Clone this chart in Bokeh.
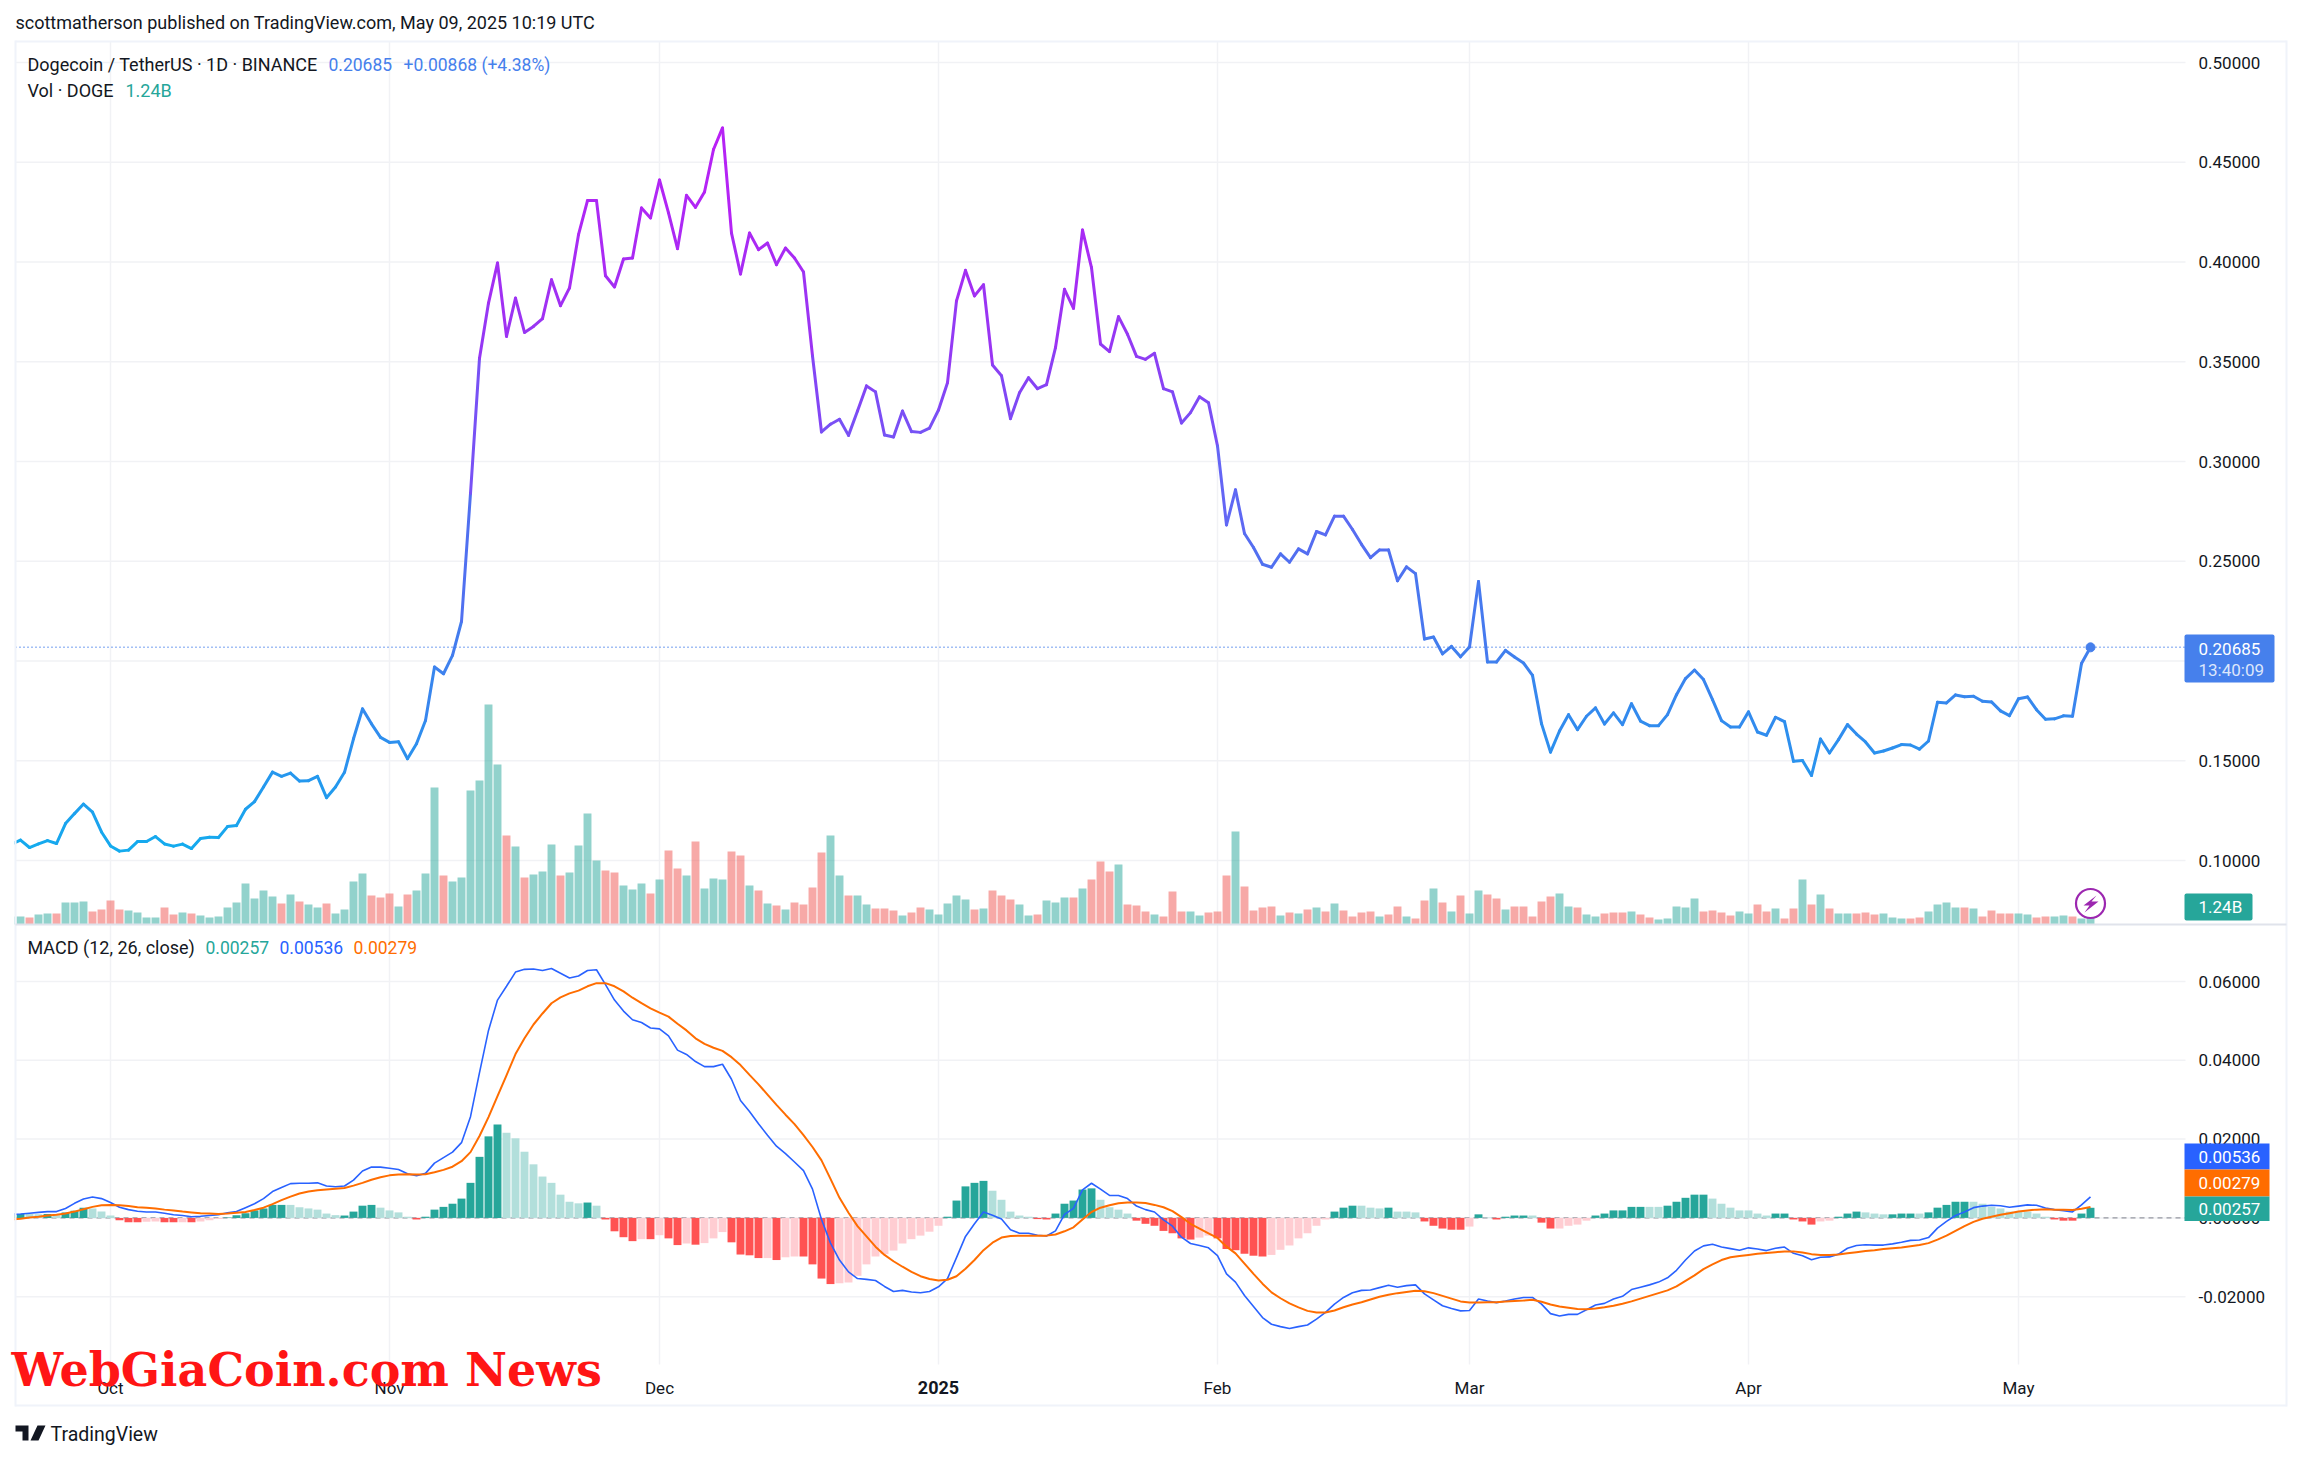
from bokeh.plotting import figure
from bokeh.core.properties import value
from bokeh.models import (Range1d, Label, BoxAnnotation, PolyAnnotation, ColumnDataSource, LinearColorMapper)
from bokeh.embed import file_html
from bokeh.resources import INLINE

# ---------- data (one value per day, Sep 20 2024 .. May 9 2025) ----------
close = [
 .1082,.1102,.1065,.1083,.1100,.1085,.1185,.1235,.1283,.1243,.1143,.1073,.1047,.1052,.1095,.1095,.1120,.1083,.1072,.1082,
 .1060,.1110,.1117,.1115,.1170,.1175,.1257,.1295,.1368,.1443,.1422,.1438,.1398,.1400,.1422,.1315,.1368,.1442,.1610,.1760,
 .1685,.1617,.1592,.1595,.1510,.1585,.1702,.1970,.1936,.2028,.2198,.2840,.3518,.3794,.3995,.3627,.3819,.3647,.3677,.3716,
 .3911,.3781,.3870,.4137,.4308,.4308,.3931,.3875,.4015,.4020,.4271,.4221,.4411,.4246,.4067,.4334,.4274,.4351,.4564,.4672,
 .4145,.3940,.4145,.4062,.4095,.3987,.4070,.4020,.3950,.3529,.3148,.3187,.3212,.3131,.3253,.3379,.3349,.3133,.3123,.3253,
 .3150,.3146,.3167,.3258,.3395,.3805,.3958,.3830,.3886,.3484,.3430,.3215,.3345,.3420,.3365,.3385,.3571,.3863,.3768,.4160,
 .3972,.3589,.3551,.3726,.3638,.3527,.3512,.3542,.3365,.3349,.3193,.3245,.3324,.3295,.3078,.2682,.2858,.2639,.2569,.2485,
 .2470,.2537,.2495,.2562,.2537,.2649,.2632,.2726,.2726,.2659,.2585,.2518,.2557,.2557,.2402,.2472,.2438,.2110,.2120,.2036,
 .2073,.2021,.2070,.2399,.1995,.1995,.2053,.2020,.1990,.1928,.1686,.1543,.1649,.1731,.1656,.1723,.1765,.1684,.1740,.1681,
 .1786,.1699,.1676,.1676,.1731,.1831,.1912,.1955,.1907,.1806,.1701,.1669,.1669,.1745,.1644,.1628,.1718,.1696,.1497,.1501,
 .1426,.1609,.1539,.1606,.1681,.1634,.1594,.1539,.1549,.1564,.1581,.1579,.1558,.1599,.1793,.1790,.1830,.1821,.1823,.1798,
 .1795,.1750,.1726,.1811,.1820,.1756,.1708,.1710,.1725,.1723,.1987,.20685]

volume_b = [
 .8,.8,.7,1.0,1.1,1.1,2.2,2.2,2.3,1.3,1.5,2.4,1.5,1.4,1.2,.7,.7,1.7,1.0,1.2,
 1.1,.9,.7,.8,1.7,2.2,4.1,2.6,3.4,2.8,2.1,3.0,2.3,2.0,1.7,2.1,1.1,1.5,4.3,5.1,
 2.9,2.7,3.1,1.8,3.0,3.4,5.1,13.7,4.9,4.3,4.7,13.4,14.4,22.0,16.0,8.9,7.8,4.7,5.0,5.3,
 8.0,4.9,5.2,7.9,11.1,6.4,5.4,5.2,3.9,3.5,4.1,3.1,4.5,7.4,5.6,4.9,8.3,3.6,4.6,4.5,
 7.3,6.9,3.9,3.4,2.1,1.9,1.5,2.2,2.0,3.7,7.2,8.9,4.9,2.9,2.9,2.0,1.6,1.6,1.4,.9,
 1.2,1.7,1.5,1.0,2.1,2.9,2.5,1.5,1.6,3.4,2.9,2.5,2.0,.9,1.0,2.4,2.2,2.7,2.7,3.6,
 4.5,6.3,5.3,6.0,2.0,1.9,1.3,1.0,.8,3.3,1.3,1.3,.9,1.2,1.3,4.9,9.3,3.8,1.4,1.7,
 1.8,.9,1.2,1.1,1.5,1.7,1.3,2.1,1.4,.8,1.2,1.3,.8,1.0,1.8,.8,.6,2.4,3.6,2.2,
 1.3,2.9,1.1,3.4,3.0,2.6,1.5,1.8,1.8,.8,2.3,2.8,3.1,1.8,1.7,1.0,.8,1.1,1.2,1.2,
 1.3,1.0,.7,.5,.6,1.8,1.7,2.6,1.3,1.4,1.2,.9,1.3,1.1,2.0,1.3,1.6,.6,1.6,4.5,
 2.0,3.0,1.6,1.1,1.1,1.1,1.2,1.0,1.1,.7,.6,.6,.7,1.3,2.0,2.2,1.7,1.7,1.6,.8,
 1.4,1.1,1.1,1.1,1.0,.7,.8,.8,.9,.8,.6,1.24]

volume_dir = ("g g r g g r g g g r r r r g g g g r r g r g g g g g g g g g "   # 0-29
              "r g r g g r g g g g r r r g r g g g r g g g g g g r g r g g "   # 30-59
              "g r g g g g r r g g g r g r r g r g g g r r g r g r g r r r "   # 60-89
              "r g g r g g r r r g r r g g g g g r g r r r g g r g g g r g "   # 90-119
              "r r r g r r r g r r r g g r r r g r r r r g r g r g r g r r "   # 120-149
              "r r g r r g r r g r g r g g r r g r r r r r g g r g g r r r "   # 150-179
              "g r r g g g g g r r r r g g r r g r r g r g r g g r r r g g "   # 180-209
              "g r r g g g g r g r r r r g g r r g g r g g").split()            # 210-231

macd_line = [
 .0009,.0010,.0012,.0014,.0016,.0016,.0024,.0037,.0048,.0053,.0049,.0039,.0027,.0021,.0017,.0015,.0015,.0012,.0008,.0006,
 .0003,.0004,.0006,.0008,.0013,.0016,.0026,.0036,.0049,.0067,.0077,.0087,.0088,.0088,.0089,.0081,.0079,.0081,.0096,.0119,
 .0129,.0129,.0126,.0123,.0112,.0107,.0113,.0139,.0153,.0167,.0191,.0257,.0369,.0476,.0553,.0588,.0624,.0631,.0632,.0628,
 .0633,.0621,.0609,.0614,.0628,.0630,.0592,.0553,.0525,.0503,.0496,.0482,.0480,.0462,.0426,.0415,.0397,.0384,.0384,.0390,
 .0352,.0298,.0270,.0239,.0210,.0182,.0163,.0142,.0120,.0073,-.0004,-.0064,-.0107,-.0137,-.0154,-.0156,-.0159,-.0174,-.0187,-.0184,
 -.0188,-.0190,-.0187,-.0175,-.0154,-.0101,-.0047,-.0015,.0015,.0007,-.0003,-.0030,-.0039,-.0039,-.0044,-.0046,-.0033,.0009,.0024,.0071,
 .0088,.0073,.0057,.0057,.0049,.0030,.0021,.0015,-.0005,-.0021,-.0049,-.0065,-.0070,-.0076,-.0096,-.0142,-.0163,-.0197,-.0225,-.0253,
 -.0270,-.0276,-.0281,-.0276,-.0272,-.0257,-.0240,-.0219,-.0202,-.0190,-.0184,-.0183,-.0177,-.0171,-.0176,-.0172,-.0170,-.0193,-.0208,-.0223,
 -.0230,-.0236,-.0235,-.0206,-.0211,-.0215,-.0211,-.0206,-.0202,-.0202,-.0219,-.0243,-.0249,-.0245,-.0245,-.0233,-.0221,-.0217,-.0206,-.0199,
 -.0182,-.0176,-.0170,-.0163,-.0152,-.0133,-.0107,-.0084,-.0071,-.0067,-.0074,-.0078,-.0082,-.0076,-.0079,-.0083,-.0077,-.0074,-.0090,-.0096,
 -.0106,-.0100,-.0099,-.0092,-.0077,-.0070,-.0068,-.0069,-.0069,-.0066,-.0062,-.0057,-.0056,-.0050,-.0026,-.0009,.0006,.0015,.0026,.0030,
 .0032,.0031,.0027,.0030,.0033,.0032,.0025,.0021,.0018,.0015,.0033,.00536]

signal_line = [
 -.0004,-.0002,.0001,.0003,.0006,.0008,.0011,.0016,.0022,.0028,.0032,.0033,.0032,.0030,.0027,.0026,.0024,.0021,.0019,.0016,
 .0014,.0012,.0011,.0010,.0011,.0013,.0015,.0020,.0026,.0035,.0045,.0054,.0062,.0067,.0070,.0072,.0074,.0076,.0082,.0089,
 .0097,.0103,.0108,.0110,.0111,.0110,.0111,.0116,.0122,.0130,.0144,.0167,.0208,.0256,.0309,.0362,.0416,.0456,.0491,.0519,
 .0545,.0560,.0570,.0577,.0588,.0596,.0596,.0588,.0575,.0559,.0545,.0532,.0521,.0511,.0493,.0476,.0456,.0442,.0432,.0424,
 .0408,.0388,.0363,.0339,.0313,.0287,.0262,.0238,.0210,.0180,.0146,.0099,.0051,.0013,-.0021,-.0047,-.0073,-.0094,-.0110,-.0124,
 -.0137,-.0148,-.0155,-.0159,-.0157,-.0148,-.0129,-.0107,-.0082,-.0063,-.0050,-.0046,-.0045,-.0045,-.0045,-.0045,-.0042,-.0034,-.0024,-.0004,
 .0015,.0026,.0032,.0037,.0039,.0039,.0038,.0033,.0027,.0017,.0002,-.0015,-.0027,-.0039,-.0051,-.0073,-.0090,-.0116,-.0142,-.0167,
 -.0189,-.0204,-.0217,-.0227,-.0236,-.0240,-.0240,-.0235,-.0227,-.0220,-.0214,-.0207,-.0200,-.0195,-.0191,-.0188,-.0185,-.0186,-.0191,-.0198,
 -.0205,-.0212,-.0215,-.0215,-.0214,-.0214,-.0212,-.0211,-.0210,-.0208,-.0213,-.0220,-.0225,-.0228,-.0231,-.0232,-.0230,-.0227,-.0223,-.0218,
 -.0212,-.0205,-.0198,-.0191,-.0184,-.0174,-.0160,-.0146,-.0130,-.0118,-.0107,-.0100,-.0097,-.0094,-.0091,-.0089,-.0087,-.0085,-.0085,-.0088,
 -.0092,-.0094,-.0094,-.0093,-.0090,-.0087,-.0084,-.0082,-.0079,-.0077,-.0075,-.0072,-.0069,-.0064,-.0055,-.0045,-.0033,-.0021,-.0010,-.0002,
 .0003,.0008,.0012,.0016,.0019,.0021,.0022,.0021,.0021,.0020,.0023,.00279]

macd_hist = [
 .0012,.0010,.0010,.0009,.0010,.0007,.0014,.0018,.0026,.0024,.0016,.0006,-.0006,-.0011,-.0011,-.0010,-.0009,-.0011,-.0011,-.0011,
 -.0011,-.0009,-.0006,-.0003,.0001,.0007,.0012,.0019,.0024,.0033,.0033,.0033,.0027,.0024,.0021,.0011,.0007,.0006,.0016,.0031,
 .0033,.0026,.0019,.0014,.0003,-.0004,.0003,.0021,.0028,.0036,.0049,.0089,.0155,.0207,.0237,.0216,.0202,.0168,.0136,.0105,
 .0089,.0059,.0041,.0037,.0039,.0031,-.0004,-.0034,-.0049,-.0059,-.0054,-.0054,-.0044,-.0052,-.0069,-.0065,-.0068,-.0064,-.0052,-.0036,
 -.0062,-.0093,-.0095,-.0102,-.0102,-.0107,-.0100,-.0098,-.0098,-.0118,-.0154,-.0168,-.0166,-.0164,-.0147,-.0118,-.0098,-.0092,-.0083,-.0065,
 -.0054,-.0045,-.0035,-.0020,.0003,.0044,.0080,.0089,.0094,.0069,.0046,.0016,.0006,.0003,-.0003,-.0004,.0011,.0036,.0044,.0072,
 .0075,.0046,.0027,.0021,.0011,-.0007,-.0015,-.0020,-.0033,-.0039,-.0052,-.0055,-.0050,-.0045,-.0052,-.0079,-.0082,-.0091,-.0096,-.0098,
 -.0094,-.0081,-.0070,-.0052,-.0039,-.0020,-.0004,.0016,.0026,.0031,.0031,.0026,.0024,.0026,.0016,.0016,.0014,-.0009,-.0020,-.0027,
 -.0030,-.0030,-.0022,.0009,.0001,-.0004,.0003,.0006,.0006,.0006,-.0012,-.0027,-.0027,-.0020,-.0017,-.0007,.0006,.0011,.0019,.0019,
 .0028,.0028,.0028,.0028,.0031,.0041,.0051,.0059,.0059,.0049,.0036,.0026,.0019,.0019,.0011,.0006,.0011,.0011,-.0004,-.0009,
 -.0017,-.0009,-.0007,.0003,.0011,.0016,.0014,.0011,.0009,.0009,.0011,.0011,.0011,.0014,.0026,.0033,.0041,.0041,.0041,.0036,
 .0028,.0024,.0016,.0016,.0016,.0011,.0003,-.0004,-.0007,-.0007,.0011,.00257]

# D dark green (rising above zero), L light green, R red, P pink
hist_shade = ("D D L L D L D D D L L L R R R P P R R P R P P P D D D D D D "   # 0-29
              "D L L L L L L D D D D L L L L R D D D D D D D D D L L L L L "   # 30-59
              "L L L L D L R R R R P R P R R P R P P P R R R R P R P P R R "   # 60-89
              "R R P P P P P P P P P P P P D D D D D L L L L L R R D D D D "   # 90-119
              "D L L L L R R R R R R R P P R R R R R R P P P P P P P D D D "   # 120-149
              "L L L D L L L R R R R R P D L R D D D L R R P P P P D D D D "   # 150-179
              "D D L L D D D D D L L L L L L L D D R R R P P D D D L L L D "   # 180-209
              "D D L D D D D D L L L L L L L L L R R R D D").split()            # 210-231

price_ticks = [.10, .15, .20, .25, .30, .35, .40, .45, .50]
macd_ticks = [-.02, 0, .02, .04, .06]
month_index = [11, 42, 72, 103, 134, 162, 193, 223]
month_names = ["Oct", "Nov", "Dec", "2025", "Feb", "Mar", "Apr", "May"]
# ---------------------------------------------------------------------------------------------

days = list(range(len(close)))
for name, arr in (("vol", volume_b), ("dir", volume_dir), ("macd", macd_line), ("sig", signal_line),
                  ("hist", macd_hist), ("shade", hist_shade)):
    assert len(arr) == len(days), (name, len(arr), len(days))

FONT = "Roboto"
INK = "#131722"
GRID = "#F1F2F5"
EDGE = "#F0F3FA"
BLUE = "#4680EC"
W, H = 2301, 1460

FRAME_L, FRAME_R, TOP, SPLIT, BOT, EDGE_B = 15, 2185, 41, 924, 1364, 1406
def ix(px): return (px - 11) / 9.0
def py1(py): return 0.50 + (62 - py) / 1995.0
def py2(py): return (1217.4 - py) / 3939.0
def pyv(py): return (SPLIT - py) / 10.0

# one canvas-wide frame; each pane is a y range laid over part of it
p = figure(width=W, height=H, frame_width=W, frame_height=H,
           x_range=Range1d(ix(0), ix(W)), y_range=Range1d(py1(H), py1(0)),
           output_backend="svg", toolbar_location=None, x_axis_location=None, y_axis_location=None,
           min_border=0, outline_line_color=None, background_fill_color="white", border_fill_color="white")
p.grid.visible = False
p.extra_y_ranges = {"vol": Range1d(pyv(H), pyv(0)), "macd": Range1d(py2(H), py2(0))}

# grid lines
gx0, gx1 = ix(FRAME_L), ix(FRAME_R)
p.segment([gx0] * len(price_ticks), price_ticks, [gx1] * len(price_ticks), price_ticks, line_color=GRID, line_width=1.5)
p.segment([gx0] * len(macd_ticks), macd_ticks, [gx1] * len(macd_ticks), macd_ticks, y_range_name="macd",
          line_color=GRID, line_width=1.5)
p.segment(month_index, [py1(TOP)] * len(month_index), month_index, [py1(BOT)] * len(month_index),
          line_color=GRID, line_width=1.5)

# scale labels
LX = ix(2198)
tf = value(FONT)
p.text([LX] * len(price_ticks), price_ticks, text=[f"{t:.5f}" for t in price_ticks], text_font=tf,
       text_font_size="17px", text_color=INK, text_baseline="middle", text_align="left")
p.text([LX] * len(macd_ticks), macd_ticks, text=[f"{t:.5f}" for t in macd_ticks], y_range_name="macd", text_font=tf,
       text_font_size="17px", text_color=INK, text_baseline="middle", text_align="left")
reg = [k for k, n in enumerate(month_names) if n != "2025"]
MONTH_Y = py1(1387)
p.text([month_index[k] for k in reg], [MONTH_Y] * len(reg), text=[month_names[k] for k in reg], text_font=tf,
       text_font_size="17px", text_color=INK, text_baseline="middle", text_align="center")
yr = month_names.index("2025")
p.text([month_index[yr]], [MONTH_Y], text=[month_names[yr]], text_font=tf, text_font_size="18px",
       text_font_style="bold", text_color=INK, text_baseline="middle", text_align="center")

# volume
vcol = ["#26A69A" if d == "g" else "#EF5350" for d in volume_dir]
p.vbar(x=days, top=volume_b, bottom=0, width=0.88, y_range_name="vol", fill_color=vcol, fill_alpha=0.5, line_color=None)

# gradient close line
anchors = [(.105, (0x14, 0xAB, 0xEE)), (.15, (0x2A, 0x92, 0xEE)), (.20, (0x3F, 0x80, 0xEE)), (.25, (0x50, 0x70, 0xF0)),
           (.29, (0x66, 0x64, 0xF5)), (.33, (0x80, 0x48, 0xF5)), (.38, (0xA0, 0x30, 0xF3)), (.46, (0xBA, 0x20, 0xF6))]
palette = []
for k in range(128):
    v = .105 + (.46 - .105) * k / 127
    for (a, ca), (b, cb) in zip(anchors, anchors[1:]):
        if a <= v <= b + 1e-9:
            t = (v - a) / (b - a)
            palette.append("#%02X%02X%02X" % tuple(int(round(u + (w - u) * t)) for u, w in zip(ca, cb)))
            break
mapper = LinearColorMapper(palette=palette, low=.105, high=.46)
seg = ColumnDataSource(dict(x0=days[:-1], x1=days[1:], y0=close[:-1], y1=close[1:],
                            m=[(a + b) / 2 for a, b in zip(close[:-1], close[1:])]))
p.segment("x0", "y0", "x1", "y1", source=seg, line_width=3, line_cap="round",
          line_color={"field": "m", "transform": mapper})
p.line([gx0, gx1], [close[-1], close[-1]], line_color=BLUE, line_width=1.5, line_dash=[1, 3])
p.scatter([days[-1]], [close[-1]], size=9, fill_color=BLUE, line_color=BLUE)

# MACD
hcol = {"D": "#26A69A", "L": "#B2DFDB", "R": "#FF5252", "P": "#FFCDD2"}
p.line([gx0, gx1], [0, 0], y_range_name="macd", line_color="#9598A1", line_width=1.2, line_dash=[5, 4])
p.vbar(x=days, top=macd_hist, bottom=0, width=0.88, y_range_name="macd", fill_color=[hcol[s] for s in hist_shade], line_color=None)
p.line(days, macd_line, y_range_name="macd", line_color="#2962FF", line_width=1.6)
p.line(days, signal_line, y_range_name="macd", line_color="#FF6D00", line_width=2)

# lightning badge
p.scatter([days[-1]], [py1(903)], size=29, fill_color="white", line_color="#9C27B0", line_width=2.2)

# decoration placed in canvas pixels
def box(l, r, t, b, color, radius=0):
    p.add_layout(BoxAnnotation(left=l, right=r, top=t, bottom=b, left_units="canvas", right_units="canvas",
                               top_units="canvas", bottom_units="canvas", fill_color=color, fill_alpha=1,
                               line_color=None, border_radius=radius))

def text(x, y, s, color=INK, size=18.0, style="normal", font=FONT):
    p.add_layout(Label(x=x, y=y, x_units="canvas", y_units="canvas", text=s, text_color=color,
                       text_font_size=f"{size}px", text_font=font, text_font_style=style, text_baseline="middle"))

def poly(pts, color):
    p.add_layout(PolyAnnotation(xs=[a for a, _ in pts], ys=[b for _, b in pts], xs_units="canvas", ys_units="canvas",
                                fill_color=color, fill_alpha=1, line_color=None))

box(0, 14, 40, EDGE_B, "white")
box(15, 2286, 40, 42, EDGE)
box(14, 16, 40, EDGE_B, EDGE)
box(2285, 2287, 40, EDGE_B, EDGE)
box(15, 2286, SPLIT - 1, SPLIT + 1, "#E0E3EB")
box(15, 2286, EDGE_B - 2, EDGE_B, EDGE)

poly([(2096, 895), (2083, 905), (2089, 905), (2084, 912), (2098, 901), (2091, 901)], "#9C27B0")

text(15, 22, "scottmatherson published on TradingView.com, May 09, 2025 10:19 UTC")
text(27, 64, "Dogecoin / TetherUS · 1D · BINANCE")
text(328, 64, "0.20685", BLUE, 17.5)
text(403, 64, "+0.00868 (+4.38%)", BLUE, 17.5)
text(27, 90, "Vol · DOGE")
text(125, 90, "1.24B", "#26A69A")
text(27, 947, "MACD (12, 26, close)")
text(205, 947, "0.00257", "#26A69A", 17.5)
text(279, 947, "0.00536", "#2962FF", 17.5)
text(353, 947, "0.00279", "#FF6D00", 17.5)

box(2184, 2274, 634, 682, BLUE, 2)
text(2198, 648, "0.20685", "white", 17)
text(2198, 669, "13:40:09", "#DCE6FB", 17)
box(2184, 2252, 893, 920, "#26A69A", 2)
text(2198, 906, "1.24B", "white", 17)
box(2184, 2269, 1143, 1169, "#2962FF")
text(2198, 1156.5, "0.00536", "white", 17)
box(2184, 2269, 1169, 1196, "#FF6D00")
text(2198, 1182.5, "0.00279", "white", 17)
box(2184, 2269, 1196, 1220.5, "#26A69A")
text(2198, 1208, "0.00257", "white", 17)

text(11, 1369, "WebGiaCoin.com News", "#FF1515", 46, "bold", "DejaVu Serif")
poly([(15, 1425), (28, 1425), (28, 1440), (22, 1440), (22, 1431), (15, 1431)], INK)
poly([(37, 1425), (45, 1425), (38, 1440), (30, 1440)], INK)
text(50, 1434, "TradingView", size=19.5)

open("out.html", "w").write(file_html(p, INLINE))
